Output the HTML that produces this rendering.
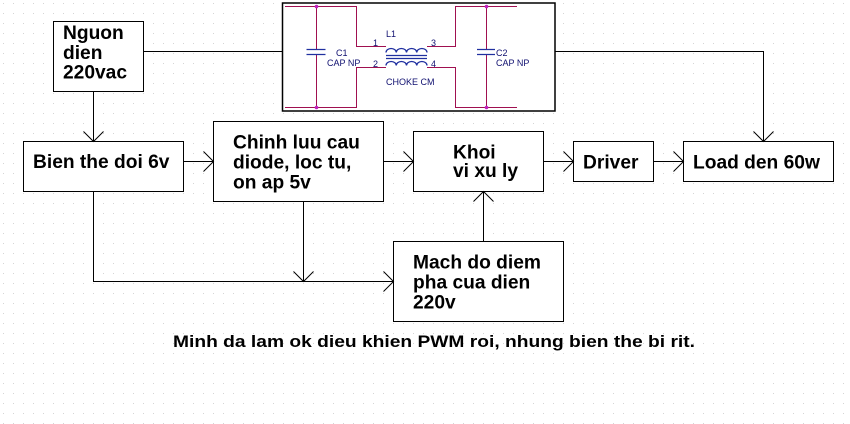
<!DOCTYPE html>
<html><head><meta charset="utf-8"><style>
html,body{margin:0;padding:0;background:#fff;}
body{width:850px;height:424px;overflow:hidden;}
svg{display:block;}
text{font-family:"Liberation Sans",Arial,sans-serif;}
.b{font-weight:bold;font-size:19.2px;fill:#000;}
.s{font-size:9px;fill:#101070;}
</style></head><body>
<svg width="850" height="424" viewBox="0 0 850 424" xmlns="http://www.w3.org/2000/svg">
<defs>
<pattern id="g" width="10" height="10" patternUnits="userSpaceOnUse">
<rect x="3" y="3" width="1" height="1" fill="#d4d4d4"/>
</pattern>
</defs>
<rect width="850" height="424" fill="#fff"/>
<rect width="850" height="424" fill="url(#g)"/>

<g fill="none" stroke="#000" stroke-width="1">
<!-- boxes -->
<rect x="53.5" y="21.5" width="90" height="70" fill="#fff"/>
<rect x="23.5" y="141.5" width="160" height="50" fill="#fff"/>
<rect x="213.5" y="121.5" width="170" height="80" fill="#fff"/>
<rect x="413.5" y="131.5" width="130" height="60" fill="#fff"/>
<rect x="573.5" y="141.5" width="80" height="40" fill="#fff"/>
<rect x="683.5" y="141.5" width="150" height="40" fill="#fff"/>
<rect x="393.5" y="241.5" width="170" height="80" fill="#fff"/>

<!-- connectors -->
<path d="M143.5 51.5H282"/>
<path d="M555 51.5H763.5V141.5"/>
<path d="M753.5 131.5L763.5 141.5L773.5 131.5"/>
<path d="M93.5 91.5V141.5"/>
<path d="M83.5 131.5L93.5 141.5L103.5 131.5"/>
<path d="M183.5 161.5H213.5"/>
<path d="M203.5 151.5L213.5 161.5L203.5 171.5"/>
<path d="M383.5 161.5H413.5"/>
<path d="M403.5 151.5L413.5 161.5L403.5 171.5"/>
<path d="M543.5 161.5H573.5"/>
<path d="M563.5 151.5L573.5 161.5L563.5 171.5"/>
<path d="M653.5 161.5H683.5"/>
<path d="M673.5 151.5L683.5 161.5L673.5 171.5"/>
<path d="M93.5 191.5V281.5H393.5"/>
<path d="M383.5 271.5L393.5 281.5L383.5 291.5"/>
<path d="M303.5 201.5V281.5"/>
<path d="M293.5 271.5L303.5 281.5L313.5 271.5"/>
<path d="M483.5 241.5V191.5"/>
<path d="M473.5 201.5L483.5 191.5L493.5 201.5"/>
</g>

<!-- filter schematic -->
<rect x="282.5" y="3" width="272.5" height="108" fill="#fff" stroke="#000" stroke-width="1.5"/>
<g fill="none" stroke="#a01050" stroke-width="1">
<path d="M285 6.5H356.5V46.5H386"/>
<path d="M285 107.5H356.5V67.5H386"/>
<path d="M316.5 6.5V49"/>
<path d="M316.5 54.5V107.5"/>
<path d="M427 46.5H455.5V6.5H517"/>
<path d="M427 67.5H455.5V107.5H517"/>
<path d="M486.5 6.5V49"/>
<path d="M486.5 54.5V107.5"/>
</g>
<g fill="#c020c0">
<circle cx="316.5" cy="6.5" r="1.8"/>
<circle cx="316.5" cy="107.5" r="1.8"/>
<circle cx="486.5" cy="6.5" r="1.8"/>
<circle cx="486.5" cy="107.5" r="1.8"/>
</g>
<g fill="none" stroke="#2030a0" stroke-width="1.3">
<path d="M306.5 49.5H325.5M306.5 54.5H325.5"/>
<path d="M477 49.5H495M477 54.5H495"/>
<path d="M386 55.5H427M386 58.5H427"/>
<path d="M386 52.5a5.1 4 0 0 1 10.25 0a5.1 4 0 0 1 10.25 0a5.1 4 0 0 1 10.25 0a5.1 4 0 0 1 10.25 0"/>
<path d="M386 65.5a5.1 4 0 0 1 10.25 0a5.1 4 0 0 1 10.25 0a5.1 4 0 0 1 10.25 0a5.1 4 0 0 1 10.25 0"/>
</g>
<g class="s">
<text x="386" y="37" class="s">L1</text>
<text x="373" y="46" class="s">1</text>
<text x="431" y="46" class="s">3</text>
<text x="373" y="67" class="s">2</text>
<text x="431" y="67" class="s">4</text>
<text x="336" y="56" class="s">C1</text>
<text x="327" y="66" class="s">CAP NP</text>
<text x="496" y="56" class="s">C2</text>
<text x="496" y="66" class="s">CAP NP</text>
<text x="386" y="85" class="s">CHOKE CM</text>
</g>

<!-- labels -->
<text class="b" x="63" y="39">Nguon</text>
<text class="b" x="63" y="59">dien</text>
<text class="b" x="63" y="78.5">220vac</text>
<text class="b" x="33" y="168">Bien the doi 6v</text>
<text class="b" x="233" y="148.5">Chinh luu cau</text>
<text class="b" x="233" y="168.5">diode, loc tu,</text>
<text class="b" x="233" y="188.5">on ap 5v</text>
<text class="b" x="453" y="158.5">Khoi</text>
<text class="b" x="453" y="177">vi xu ly</text>
<text class="b" x="583" y="168.5">Driver</text>
<text class="b" x="693" y="168.5">Load den 60w</text>
<text class="b" x="413" y="268.5">Mach do diem</text>
<text class="b" x="413" y="288.5">pha cua dien</text>
<text class="b" x="413" y="308.5">220v</text>
<text x="173" y="347" font-size="17" font-weight="bold" textLength="522" lengthAdjust="spacingAndGlyphs">Minh da lam ok dieu khien PWM roi, nhung bien the bi rit.</text>
</svg>
</body></html>
